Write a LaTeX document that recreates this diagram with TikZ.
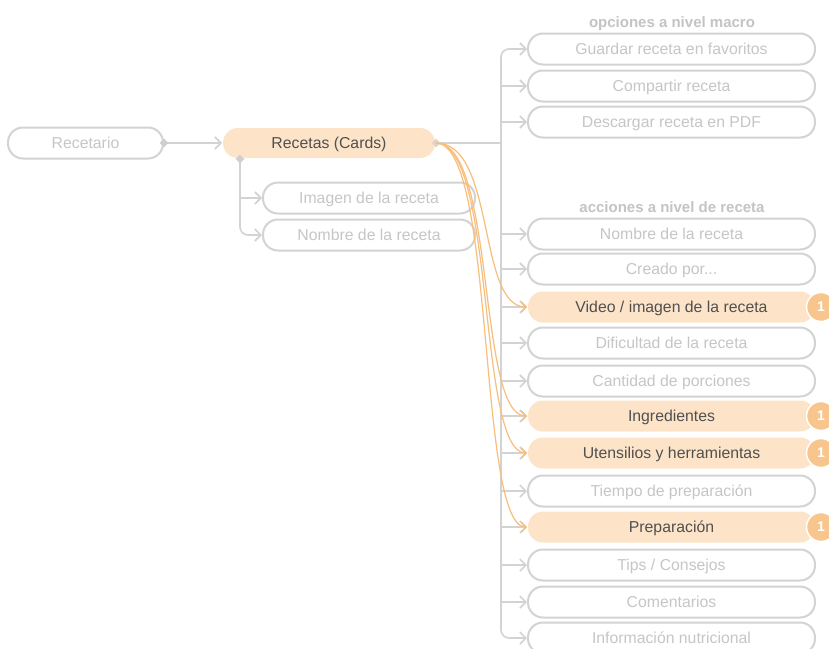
\documentclass[tikz,border=0pt]{standalone}
\usepackage{fontspec}
\setmainfont{Liberation Sans}
\usetikzlibrary{arrows.meta,shapes.geometric}
\definecolor{bord}{HTML}{D3D3D3}
\definecolor{ltxt}{HTML}{C6C6C6}
\definecolor{dtxt}{HTML}{505050}
\definecolor{peach}{HTML}{FDE4C8}
\definecolor{orng}{HTML}{F8BE7C}
\definecolor{badgec}{HTML}{F8C68C}
\definecolor{ttlc}{HTML}{C4C4C4}
\definecolor{dia}{HTML}{CFCFCF}
\begin{document}
\begin{tikzpicture}[x=1pt,y=-1pt,
  box/.style={draw=bord, line width=2pt, rounded corners=15pt, minimum height=31pt,
    inner sep=0pt, text=ltxt, font=\fontsize{15.8}{18}\selectfont,
    text height=12pt, text depth=0.6pt},
  hot/.style={box, draw=none, fill=peach, text=dtxt},
  wide/.style={minimum width=287pt},
  mid/.style={minimum width=212pt},
  ttl/.style={text=ttlc, font=\bfseries\fontsize{15}{17}\selectfont, inner sep=0pt,
    text height=11pt, text depth=0.4pt},
  conn/.style={draw=bord, line width=1.6pt},
  tip/.style={-{Straight Barb[length=6pt,width=12pt]}},
  ocurve/.style={draw=orng, line width=1.2pt, -{Straight Barb[length=5pt,width=10pt]}},
  dmd/.style={diamond, fill=dia, minimum size=9pt, inner sep=0pt},
  badge/.style={circle, fill=badgec, draw=white, line width=1.5pt, minimum size=29pt,
    inner sep=0pt, text=white, font=\bfseries\fontsize{14}{16}\selectfont}
]
\useasboundingbox (0,0) rectangle (829,648);
\fill[white] (0,0) rectangle (829,648);

% left part
\node[box, minimum width=155pt] (rec) at (85.5,143) {Recetario};
\node[hot, minimum width=212pt, minimum height=30pt] (cards) at (329,143) {Recetas (Cards)};
\node[box, mid] (img) at (369,198) {Imagen de la receta};
\node[box, mid] (nom) at (369,235) {Nombre de la receta};

% right column
\node[ttl] (t1) at (672,22) {opciones a nivel macro};
\node[box, wide] (r1) at (671.5,49) {Guardar receta en favoritos};
\node[box, wide] (r2) at (671.5,86) {Compartir receta};
\node[box, wide] (r3) at (671.5,122) {Descargar receta en PDF};
\node[ttl] (t2) at (672,207) {acciones a nivel de receta};
\node[box, wide] (r4) at (671.5,234) {Nombre de la receta};
\node[box, wide] (r5) at (671.5,269) {Creado por...};
\node[hot, wide] (r6) at (671.5,307) {Video / imagen de la receta};
\node[box, wide] (r7) at (671.5,343) {Dificultad de la receta};
\node[box, wide] (r8) at (671.5,381) {Cantidad de porciones};
\node[hot, wide] (r9) at (671.5,416) {Ingredientes};
\node[hot, wide] (r10) at (671.5,453) {Utensilios y herramientas};
\node[box, wide] (r11) at (671.5,491) {Tiempo de preparación};
\node[hot, wide] (r12) at (671.5,527) {Preparación};
\node[box, wide] (r13) at (671.5,565) {Tips / Consejos};
\node[box, wide] (r14) at (671.5,602) {Comentarios};
\node[box, wide] (r15) at (671.5,638) {Información nutricional};

% badges
\node[badge] (b6) at (821,307) {1};
\node[badge] (b9) at (821,416) {1};
\node[badge] (b10) at (821,453) {1};
\node[badge] (b12) at (821,527) {1};

% connectors left
\draw[conn, tip] (rec.east) -- (cards.west);
\coordinate (bd) at ([xshift=18pt]cards.south west);
\draw[conn, tip, rounded corners=8pt] (bd) |- (nom.west);
\draw[conn, tip] (bd |- img.west) -- (img.west);

% trunk
\coordinate (tk) at (501,143);
\draw[conn] (cards.east) -- (tk);
\draw[conn, tip, rounded corners=8pt] (tk) |- (r1.west);
\draw[conn, tip, rounded corners=8pt] (tk) |- (r15.west);
\foreach \n in {r2,r3,r4,r5,r6,r7,r8,r9,r10,r11,r12,r13,r14}{
  \draw[conn, tip] (tk |- \n.west) -- (\n.west);
}

% diamonds
\node[dmd] (d1) at (rec.east) {};
\node[dmd] (d2) at (bd) {};
\node[dmd, fill=dia!70!peach] (d3) at (cards.east) {};

% orange curves
\foreach \n in {r6,r9,r10,r12}{
  \draw[ocurve] (d3.center) .. controls +(60,0) and +(-50,0) .. (\n.west);
}
\end{tikzpicture}
\end{document}
